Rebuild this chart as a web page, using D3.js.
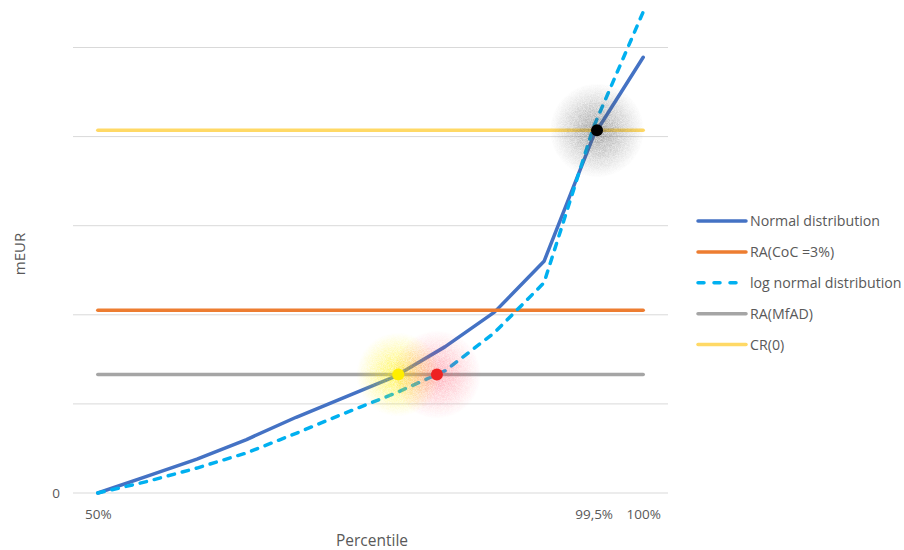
<!DOCTYPE html>
<html>
<head>
<meta charset="utf-8">
<script src="https://cdn.jsdelivr.net/npm/d3@7"></script>
<style>
  html, body { margin: 0; padding: 0; background: #ffffff; }
  svg { display: block; font-family: "Open Sans", "Noto Sans", sans-serif; }
</style>
</head>
<body>
<svg id="chart" width="904" height="550"></svg>
<script>
// Percentile categories along the x axis (only some are labelled)
const categories = ["50%", "", "", "", "", "", "", "", "", "", "99,5%", "100%"];

// Loss quantiles in mEUR
const normalDist    = [0, 0.19, 0.38, 0.60, 0.85, 1.08, 1.31, 1.64, 2.03, 2.60, 4.01, 4.89];
const logNormalDist = [0, 0.13, 0.28, 0.45, 0.67, 0.90, 1.12, 1.37, 1.80, 2.36, 4.11, 5.40];

// Flat reference levels
const raCoC  = [2.05, 2.05, 2.05, 2.05, 2.05, 2.05, 2.05, 2.05, 2.05, 2.05, 2.05, 2.05];
const raMfAD = [1.33, 1.33, 1.33, 1.33, 1.33, 1.33, 1.33, 1.33, 1.33, 1.33, 1.33, 1.33];
const cr0    = [4.07, 4.07, 4.07, 4.07, 4.07, 4.07, 4.07, 4.07, 4.07, 4.07, 4.07, 4.07];

const yTicks      = [0, 1, 2, 3, 4, 5];
const yTickLabels = ["0", "", "", "", "", ""];

const seriesNames = ["Normal distribution", "RA(CoC =3%)", "log normal distribution", "RA(MfAD)", "CR(0)"];

const series = [
  { name: seriesNames[0], values: normalDist,    color: "#4472C4", dash: null },
  { name: seriesNames[1], values: raCoC,         color: "#ED7D31", dash: null },
  { name: seriesNames[2], values: logNormalDist, color: "#00B0F0", dash: "6.5,8" },
  { name: seriesNames[3], values: raMfAD,        color: "#A5A5A5", dash: null },
  { name: seriesNames[4], values: cr0,           color: "#FFD966", dash: null }
];

const svg = d3.select("#chart");
const plot = { left: 73, right: 668, top: 47.5, bottom: 493 };

const x = d3.scalePoint()
  .domain(d3.range(categories.length))
  .range([plot.left, plot.right])
  .padding(0.5);

const y = d3.scaleLinear()
  .domain([0, 5])
  .range([plot.bottom, plot.top]);

const defs = svg.append("defs");

// Horizontal gridlines
svg.append("g")
  .selectAll("line")
  .data(yTicks)
  .join("line")
  .attr("x1", plot.left).attr("x2", plot.right)
  .attr("y1", d => y(d)).attr("y2", d => y(d))
  .attr("stroke", "#D9D9D9")
  .attr("stroke-width", 1);

// Y axis (labels only)
const yAxis = d3.axisLeft(y)
  .tickValues(yTicks)
  .tickSize(0)
  .tickPadding(0)
  .tickFormat((d, i) => yTickLabels[i]);
svg.append("g")
  .attr("transform", `translate(${plot.left - 13},0)`)
  .call(yAxis)
  .call(g => g.select(".domain").remove())
  .call(g => g.selectAll("text")
    .attr("fill", "#595959")
    .attr("font-size", 13.5)
    .attr("font-family", "Open Sans, sans-serif"));

// X axis (labels only)
const xAxis = d3.axisBottom(x)
  .tickSize(0)
  .tickPadding(0)
  .tickFormat(i => categories[i]);
svg.append("g")
  .attr("transform", `translate(0,${plot.bottom + 16})`)
  .call(xAxis)
  .call(g => g.select(".domain").remove())
  .call(g => g.selectAll("text")
    .attr("fill", "#595959")
    .attr("font-size", 13.5)
    .attr("font-family", "Open Sans, sans-serif"));

// Axis titles
svg.append("text")
  .attr("x", 372).attr("y", 546)
  .attr("text-anchor", "middle")
  .attr("fill", "#595959")
  .attr("font-size", 15.5)
  .text("Percentile");

svg.append("text")
  .attr("transform", "translate(25,254) rotate(-90)")
  .attr("text-anchor", "middle")
  .attr("fill", "#595959")
  .attr("font-size", 15)
  .text("mEUR");

// Series lines
const line = d3.line()
  .x((d, i) => x(i))
  .y(d => y(d));

svg.append("g")
  .selectAll("path")
  .data(series)
  .join("path")
  .attr("d", d => line(d.values))
  .attr("fill", "none")
  .attr("stroke", d => d.color)
  .attr("stroke-width", 3.5)
  .attr("stroke-linecap", "round")
  .attr("stroke-linejoin", "round")
  .attr("stroke-dasharray", d => d.dash);

// Where a distribution curve first reaches a reference level
function crossing(values, level) {
  const step = x.step();
  for (let i = 0; i < values.length - 1; i++) {
    if (values[i] <= level && values[i + 1] >= level) {
      const t = (level - values[i]) / (values[i + 1] - values[i]);
      return { x: x(i) + t * step, y: y(level) };
    }
  }
  return null;
}

const markers = [
  { id: "glowYellow", curve: normalDist,    level: raMfAD[0], dot: "#FFEE00", glow: "#FFF000", glowOpacity: 0.7,  r: 42 },
  { id: "glowRed",    curve: logNormalDist, level: raMfAD[0], dot: "#EE2222", glow: "#FF4058", glowOpacity: 0.45, r: 44 },
  { id: "glowBlack",  curve: normalDist,    level: cr0[0],    dot: "#000000", glow: "#555555", glowOpacity: 0.6,  r: 47 }
].map(m => Object.assign(m, crossing(m.curve, m.level)));

// Soft halo gradients
markers.forEach(m => {
  const g = defs.append("radialGradient").attr("id", m.id);
  g.append("stop").attr("offset", "0%").attr("stop-color", m.glow).attr("stop-opacity", m.glowOpacity);
  g.append("stop").attr("offset", "45%").attr("stop-color", m.glow).attr("stop-opacity", m.glowOpacity * 0.55);
  g.append("stop").attr("offset", "100%").attr("stop-color", m.glow).attr("stop-opacity", 0);
});

// Grain for the halos
const grain = defs.append("filter").attr("id", "grain")
  .attr("x", "-10%").attr("y", "-10%").attr("width", "120%").attr("height", "120%");
grain.append("feTurbulence")
  .attr("type", "fractalNoise").attr("baseFrequency", 1.6).attr("numOctaves", 1).attr("seed", 3)
  .attr("result", "noise");
grain.append("feColorMatrix")
  .attr("in", "noise").attr("type", "matrix")
  .attr("values", "0 0 0 0 1  0 0 0 0 1  0 0 0 0 1  0 0 0 -1.2 1.35")
  .attr("result", "mask");
grain.append("feComposite")
  .attr("in", "SourceGraphic").attr("in2", "mask").attr("operator", "in");

svg.append("g")
  .selectAll("circle")
  .data(markers)
  .join("circle")
  .attr("cx", d => d.x).attr("cy", d => d.y)
  .attr("r", d => d.r)
  .attr("fill", d => `url(#${d.id})`)
  .attr("filter", "url(#grain)");

svg.append("g")
  .selectAll("circle")
  .data(markers)
  .join("circle")
  .attr("cx", d => d.x).attr("cy", d => d.y)
  .attr("r", 6)
  .attr("fill", d => d.dot);

// Legend
const legend = svg.append("g").attr("transform", "translate(698,221)");
const item = legend.selectAll("g")
  .data(series)
  .join("g")
  .attr("transform", (d, i) => `translate(0,${i * 30.9})`);
item.append("line")
  .attr("x1", 0).attr("x2", 48)
  .attr("stroke", d => d.color)
  .attr("stroke-width", 3.5)
  .attr("stroke-linecap", "round")
  .attr("stroke-dasharray", d => d.dash ? "6,10" : null);
item.append("text")
  .attr("x", 52).attr("y", 0)
  .attr("dy", "0.35em")
  .attr("fill", "#595959")
  .attr("font-size", 14.2)
  .text(d => d.name);
</script>
</body>
</html>
